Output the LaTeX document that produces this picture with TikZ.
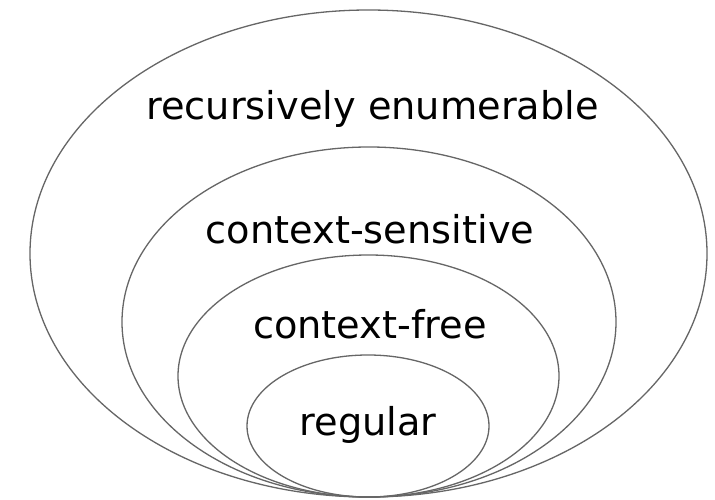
\documentclass[tikz,border=0pt]{standalone}
\usepackage{fontspec}
\newfontfamily\lblfont{DejaVu Sans}
\begin{document}
\begin{tikzpicture}[x=1pt,y=1pt,
  setline/.style={draw=black!60, line width=1.3pt},
  lbl/.style={font=\lblfont\fontsize{38.3}{40}\selectfont, anchor=base, inner sep=0pt, text=black}]
\useasboundingbox[fill=white] (0,0) rectangle (715,499);
% y_tikz = 499 - y_img
\draw[setline] (368.5,245.5) ellipse [x radius=338.5, y radius=243.5];
\draw[setline] (369,177) ellipse [x radius=247, y radius=175];
\draw[setline] (368.5,123) ellipse [x radius=190.5, y radius=121];
\draw[setline] (368,73) ellipse [x radius=121, y radius=71];
\node[lbl] (re) at (372.5,379) {recursively enumerable};
\node[lbl] (cs) at (370,256) {context-sensitive};
\node[lbl] (cf) at (370,161) {context-free};
\node[lbl] (rg) at (368,64) {regular};
\end{tikzpicture}
\end{document}
